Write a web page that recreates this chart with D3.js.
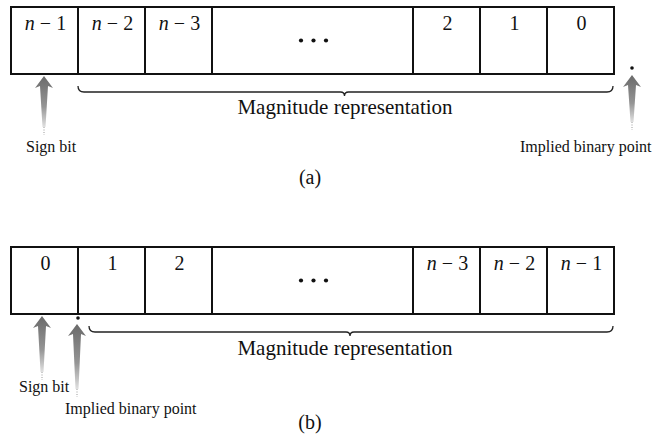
<!DOCTYPE html>
<html><head><meta charset="utf-8">
<script src="https://cdn.jsdelivr.net/npm/d3@7"></script>
<style>body{margin:0;background:#fff}svg{display:block}</style>
</head><body><svg id="c" width="657" height="436"></svg>
<script>
// Data
const cellUnits = [1, 1, 1, 3, 1, 1, 1];           // relative widths of cells
const labelsA = ["n-1", "n-2", "n-3", "…", "2", "1", "0"];
const labelsB = ["0", "1", "2", "…", "n-3", "n-2", "n-1"];
const ellipsisDots = [-1, 0, 1];
const braceText = "Magnitude representation";
const captions = ["(a)", "(b)"];

const svg = d3.select("#c");
const font = "'Liberation Serif','Times New Roman',serif";
const total = d3.sum(cellUnits);
const x = d3.scaleLinear().domain([0, total]).range([11, 614]);
const starts = d3.cumsum([0, ...cellUnits]);

const defs = svg.append("defs");
const grad = defs.append("linearGradient").attr("id", "ag").attr("x1", 0).attr("y1", 0).attr("x2", 0).attr("y2", 1);
grad.append("stop").attr("offset", "0%").attr("stop-color", "#6a6a6a");
grad.append("stop").attr("offset", "60%").attr("stop-color", "#959595");
grad.append("stop").attr("offset", "100%").attr("stop-color", "#e0e0e0");

function drawArrow(cx, tip, bottom) {
  const hw = 9, sw = 4, hh = 12;
  const p = d3.path();
  p.moveTo(cx, tip);
  p.lineTo(cx + hw, tip + hh);
  p.lineTo(cx + sw, tip + hh - 2);
  p.lineTo(cx + 1.5, bottom);
  p.lineTo(cx - 1.5, bottom);
  p.lineTo(cx - sw, tip + hh - 2);
  p.lineTo(cx - hw, tip + hh);
  p.closePath();
  svg.append("path").attr("d", p.toString()).attr("fill", "url(#ag)");
  svg.append("line").attr("x1", cx).attr("x2", cx).attr("y1", bottom).attr("y2", bottom + 8)
    .attr("stroke", "#999").attr("stroke-width", 1).attr("stroke-dasharray", "1,1.5");
}

function drawBrace(x0, x1, y0) {
  const mid = (x0 + x1) / 2 - 1, r = 6, d = 4;
  const p = d3.path();
  p.moveTo(x0, y0);
  p.quadraticCurveTo(x0, y0 + r, x0 + r, y0 + r);
  p.lineTo(mid - d, y0 + r);
  p.quadraticCurveTo(mid, y0 + r, mid, y0 + r + d);
  p.quadraticCurveTo(mid, y0 + r, mid + d, y0 + r);
  p.lineTo(x1 - r, y0 + r);
  p.quadraticCurveTo(x1, y0 + r, x1, y0);
  svg.append("path").attr("d", p.toString()).attr("fill", "none").attr("stroke", "#222").attr("stroke-width", 1.3);
}

function drawRow(top, labels) {
  const g = svg.append("g");
  g.selectAll("rect").data(cellUnits).join("rect")
    .attr("x", (d, i) => x(starts[i])).attr("y", top)
    .attr("width", d => x(d) - x(0)).attr("height", 67)
    .attr("fill", "none").attr("stroke", "#111").attr("stroke-width", 2);
  labels.forEach((s, i) => {
    const cx = (x(starts[i]) + x(starts[i + 1])) / 2 + 1;
    if (s === "…") {
      g.selectAll("circle.e" + top).data(ellipsisDots).join("circle")
        .attr("cx", d => cx + d * 12.5).attr("cy", top + 33.5).attr("r", 2.1).attr("fill", "#111");
      return;
    }
    const t = g.append("text").attr("x", cx).attr("y", top + 23)
      .attr("text-anchor", "middle").attr("font-family", font).attr("font-size", 20).attr("fill", "#111");
    if (s.startsWith("n")) {
      t.append("tspan").attr("font-style", "italic").text("n");
      t.append("tspan").text(" \u2212 " + s.slice(2));
    } else t.text(s);
  });
}

function txt(s, xx, yy, size, anchor) {
  return svg.append("text").attr("x", xx).attr("y", yy).attr("font-family", font)
    .attr("font-size", size).attr("text-anchor", anchor || "start").attr("fill", "#111").text(s);
}

// (a)
drawRow(7, labelsA);
drawBrace(x(starts[1]), x(total) - 1, 86);
txt(braceText, 345, 114, 21, "middle");
drawArrow(44, 76, 127);
txt("Sign bit", 26, 152, 16);
svg.append("circle").attr("cx", 632).attr("cy", 68).attr("r", 1.8).attr("fill", "#111");
drawArrow(632, 75, 122);
txt("Implied binary point", 520, 152, 16);
txt(captions[0], 310, 184, 20, "middle");

// (b)
drawRow(247, labelsB);
drawBrace(x(starts[1]) + 11, x(total) - 1, 326);
txt(braceText, 345, 355, 21, "middle");
txt("Sign bit", 19, 392, 16);
drawArrow(42, 316, 372);
svg.append("circle").attr("cx", 78).attr("cy", 318).attr("r", 1.8).attr("fill", "#111");
drawArrow(77, 324, 389);
txt("Implied binary point", 65, 414, 16);
txt(captions[1], 310, 429, 20, "middle");
</script></body></html>
